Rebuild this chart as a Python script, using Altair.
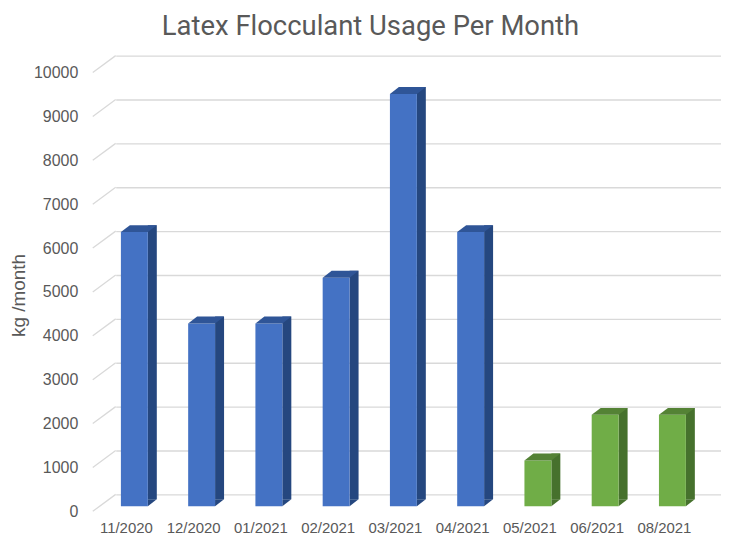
import altair as alt
import pandas as pd

months = ["11/2020", "12/2020", "01/2021", "02/2021", "03/2021",
          "04/2021", "05/2021", "06/2021", "08/2021"]
usage = [6250, 4170, 4170, 5210, 9400, 6250, 1045, 2085, 2085]
group = ["A", "A", "A", "A", "A", "A", "B", "B", "B"]
ticks = [0, 1000, 2000, 3000, 4000, 5000, 6000, 7000, 8000, 9000, 10000]

df = pd.DataFrame({"month": months, "usage": usage, "group": group})
tdf = pd.DataFrame({"tick": ticks})

front_c = alt.Scale(domain=["A", "B"], range=["#4472C4", "#70AD47"])
side_c = alt.Scale(domain=["A", "B"], range=["#25477F", "#46712D"])
top_c = alt.Scale(domain=["A", "B"], range=["#2F5597", "#548235"])

W, H = 607, 440
yscale = alt.Scale(domain=[0, 10000], nice=False)
grey = "#595959"

x_enc = alt.X("month:N", sort=months, scale=alt.Scale(paddingInner=0, paddingOuter=0),
              axis=alt.Axis(title=None, labelAngle=0, ticks=False, domain=False,
                            labelOffset=-23, labelPadding=26, labelFontSize=15,
                            labelColor=grey, labelFont="Liberation Sans"))
y_enc = alt.Y("usage:Q", scale=yscale,
              axis=alt.Axis(values=ticks, format="d", title="kg /month", ticks=False, domain=False,
                            labelOffset=17, labelPadding=38, labelFontSize=16,
                            labelColor=grey, labelFont="Liberation Sans",
                            grid=True, gridColor="#D9D9D9", gridWidth=1.3,
                            titleFont="Liberation Sans", titleFontSize=19,
                            titleFontWeight="normal", titleColor=grey,
                            titleX=-97, titleY=240, titleAngle=-90,
                            titleAlign="center", titleBaseline="middle"))

diag = alt.Chart(tdf).mark_rule(color="#D9D9D9", strokeWidth=1.3, yOffset=17, y2Offset=0).encode(
    x=alt.value(-23), x2=alt.value(0),
    y=alt.Y("tick:Q", scale=yscale), y2="tick:Q")

base = alt.Chart(df)

side = base.mark_bar(width=9, xOffset=3, yOffset=5, y2Offset=5).encode(
    x=x_enc, y=y_enc, y2=alt.datum(0),
    color=alt.Color("group:N", scale=side_c, legend=None))

side_bottom = base.mark_point(shape="M -1.5 5 L 7.5 5 L -1.5 12 Z", size=4,
                              filled=True, opacity=1, strokeWidth=0).encode(
    x=x_enc, y=alt.datum(0),
    color=alt.Color("group:N", scale=side_c, legend=None))

front = base.mark_bar(width=27, xOffset=-15, yOffset=12, y2Offset=12).encode(
    x=x_enc, y=y_enc, y2=alt.datum(0),
    color=alt.Color("group:N", scale=front_c, legend=None))

top = base.mark_point(shape="M -28.5 12 L -1.5 12 L 7.5 5 L -19.5 5 Z", size=4,
                      filled=True, opacity=1, strokeWidth=0).encode(
    x=x_enc, y=y_enc,
    color=alt.Color("group:N", scale=top_c, legend=None))

chart = alt.layer(diag, side, side_bottom, front, top).resolve_scale(
    color="independent"
).properties(
    width=W, height=H,
    title=alt.TitleParams("Latex Flocculant Usage Per Month", font="Roboto",
                          fontSize=27.5, fontWeight="normal", color=grey,
                          anchor="middle", frame="group", dx=-48, offset=15),
    autosize=alt.AutoSizeParams(type="none"),
    padding={"left": 108, "top": 47, "right": 0, "bottom": 44},
).configure_view(stroke=None)

chart.save("out.html", embed_options={"renderer": "svg", "actions": False})
